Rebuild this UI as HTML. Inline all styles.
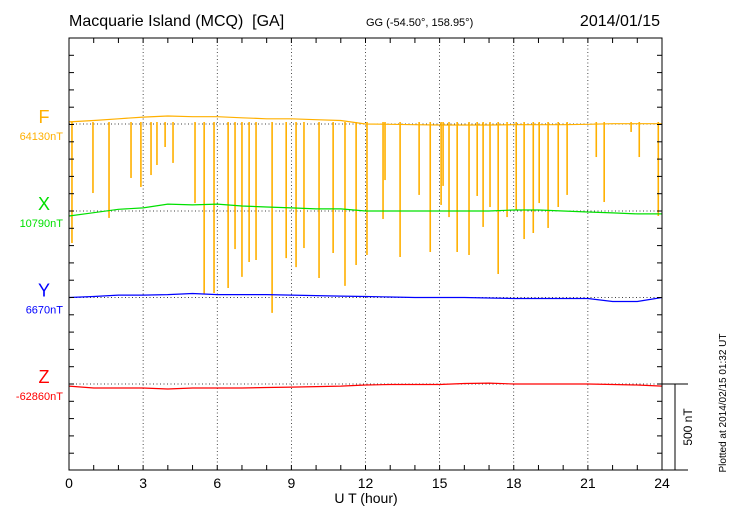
<!DOCTYPE html>
<html><head><meta charset="utf-8"><style>
body{margin:0;background:#fff;}
svg{display:block;font-family:"Liberation Sans",sans-serif;}
</style></head><body>
<svg id="chart" width="730" height="520" viewBox="0 0 730 520" xmlns="http://www.w3.org/2000/svg">
<text x="69" y="26" font-size="16">Macquarie Island (MCQ)&#160; [GA]</text>
<text x="366" y="26" font-size="11">GG (-54.50°, 158.95°)</text>
<text x="660" y="26" font-size="16" text-anchor="end">2014/01/15</text>
<text x="366" y="503" font-size="14" text-anchor="middle">U T (hour)</text>
<text transform="translate(726,403) rotate(-90)" font-size="10" text-anchor="middle">Plotted at 2014/02/15 01:32 UT</text>
<text transform="translate(692,427) rotate(-90)" font-size="12" text-anchor="middle">500 nT</text>
<g id="g"></g>
</svg>
<script>
const hours=[0,1,2,3,4,5,6,7,8,9,10,11,12,13,14,15,16,17,18,19,20,21,22,23,24];
const fValues=[64142,64150,64160,64170,64176,64172,64172,64166,64160,64160,64155,64150,64130,64128,64126,64124,64124,64124,64126,64126,64126,64128,64132,64132,64132];
const xValues=[10761,10780,10800,10808,10830,10825,10830,10819,10813,10808,10802,10802,10790,10790,10790,10790,10790,10790,10796,10796,10790,10784,10779,10773,10773];
const yValues=[6670,6676,6684,6684,6687,6693,6687,6687,6687,6684,6681,6678,6676,6673,6670,6670,6670,6667,6664,6664,6664,6664,6647,6647,6670];
const zValues=[-62872,-62883,-62883,-62883,-62889,-62883,-62883,-62883,-62880,-62878,-62875,-62872,-62866,-62863,-62863,-62863,-62857,-62855,-62860,-62860,-62860,-62860,-62863,-62866,-62872];
const spikeHours=[0.12,0.97,1.62,2.51,2.91,3.32,3.56,3.89,4.21,5.10,5.47,5.87,6.44,6.72,7.00,7.29,7.57,8.22,8.79,9.19,9.51,10.12,10.69,11.17,11.62,12.06,12.71,12.79,13.40,14.17,14.62,15.06,15.14,15.38,15.71,16.19,16.52,16.76,17.04,17.37,17.73,18.10,18.42,18.79,19.03,19.39,19.80,20.16,21.34,21.66,22.75,23.08,23.85];
const spikeMins=[63442,63731,63587,63818,63766,63835,63893,63997,63905,63673,63147,63153,63182,63407,63246,63332,63344,63038,63355,63303,63413,63240,63384,63194,63315,63373,63581,63806,63361,63720,63390,63662,63772,63592,63390,63373,63714,63535,63650,63263,63592,63633,63465,63500,63673,63529,63650,63720,63939,63679,64084,63939,63598];
const components=["F","X","Y","Z"];
const baseValues=[64130,10790,6670,-62860];
const xTickLabels=["0","3","6","9","12","15","18","21","24"];

const X0=69,X1=662,TOP=38,BOT=470,PXN=86.5/500;
const baseY=[124,211,297.5,384];
const colors=["#ffb000","#00e000","#0000ff","#ff0000"];
const xs=h=>X0+(X1-X0)*h/24;
const ys=(v,i)=>baseY[i]-(v-baseValues[i])*PXN;
const g=document.getElementById('g');
const NS="http://www.w3.org/2000/svg";
function mk(t,a){const e=document.createElementNS(NS,t);for(const k in a)e.setAttribute(k,a[k]);g.appendChild(e);return e;}

for(let h=3;h<24;h+=3){const e=mk('line',{x1:xs(h),x2:xs(h),y1:TOP,y2:BOT,stroke:'#000','stroke-width':0.7,'stroke-dasharray':'1,2.5'});

}
for(let i=0;i<4;i++){const e=mk('line',{x1:X0,x2:X1,y1:baseY[i],y2:baseY[i],stroke:'#000','stroke-width':0.7,'stroke-dasharray':'1,2.5'});

}

for(let k=0;k<spikeHours.length;k++){const e=mk('line',{x1:xs(spikeHours[k]),x2:xs(spikeHours[k]),y1:baseY[0]-2,y2:ys(spikeMins[k],0),stroke:colors[0],'stroke-width':1.6});

}

const series=[fValues,xValues,yValues,zValues];
for(let i=0;i<4;i++){const pts=hours.map((h,j)=>xs(h).toFixed(1)+','+ys(series[i][j],i).toFixed(1)).join(' ');
const e=mk('polyline',{points:pts,fill:'none',stroke:colors[i],'stroke-width':1.2});


const l=mk('text',{x:44,y:baseY[i]-1,'font-size':18,fill:colors[i],'text-anchor':'middle'});l.textContent=components[i];


const v=mk('text',{x:63,y:baseY[i]+16,'font-size':11,fill:colors[i],'text-anchor':'end'});v.textContent=baseValues[i]+'nT';

}

const fr=mk('rect',{x:X0,y:TOP,width:X1-X0,height:BOT-TOP,fill:'none',stroke:'#000','stroke-width':1});


for(let h=1;h<24;h++){mk('line',{x1:xs(h),x2:xs(h),y1:TOP,y2:TOP+5,stroke:'#000'});mk('line',{x1:xs(h),x2:xs(h),y1:BOT,y2:BOT-5,stroke:'#000'});}
for(let y=TOP+17.3;y<BOT;y+=17.3){mk('line',{x1:X0,x2:X0+5,y1:y,y2:y,stroke:'#000'});mk('line',{x1:X1,x2:X1-5,y1:y,y2:y,stroke:'#000'});}
xTickLabels.forEach((t,k)=>{const e=mk('text',{x:xs(k*3),y:488,'font-size':14,'text-anchor':'middle'});e.textContent=t;

});
mk('line',{x1:X1,x2:688,y1:384,y2:384,stroke:'#000'});
mk('line',{x1:X1,x2:688,y1:BOT,y2:BOT,stroke:'#000'});
const sb=mk('line',{x1:675,x2:675,y1:384,y2:BOT,stroke:'#000'});


</script>
</body></html>
